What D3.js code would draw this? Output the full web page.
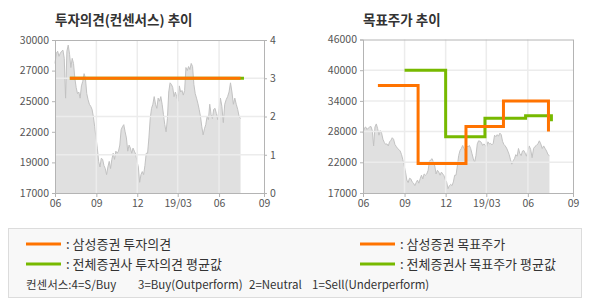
<!DOCTYPE html>
<html>
<head>
<meta charset="utf-8">
<script src="https://cdn.jsdelivr.net/npm/d3@7"></script>
<style>
body { margin: 0; background: #fff; }
text { font-family: "Noto Sans CJK KR", "Noto Sans", sans-serif; }
</style>
</head>
<body>
<svg id="chart" width="590" height="300"></svg>
<script>
// daily close, spread evenly from start to end
var priceStart = "2018-06-01", priceEnd = "2019-07-15";
var prices = [
  27700, 28700, 28900, 28400, 28700, 28900, 29000, 28200, 25200, 28900,
  29500, 28600, 27300, 28200, 27700, 26500, 25900, 25500, 25600, 25200,
  26000, 26300, 26800, 26500, 25500, 25100, 24700, 24500, 24200, 23500,
  22500, 21400, 20400, 19100, 18700, 19400, 19300, 18800, 18600, 18200,
  18700, 19100, 18600, 19300, 19900, 19300, 20100,
  19900, 20100, 20700, 22200, 22500, 22700, 22000, 21400, 20100, 20700,
  20400, 19900, 20400, 20100, 19800, 19100, 18700, 17700, 18200, 18400,
  18200, 18800, 19900, 19900, 21400, 23300, 24300, 24700, 25300, 24700,
  24300, 25200, 25000, 25300, 24700, 23700, 22700, 22000, 23300, 25600,
  26200, 26100, 25900, 25300, 25600, 25300, 25000,
  26000, 25600, 25700, 25400, 25700, 27300, 27000, 27400, 27100, 27700,
  27400, 26100, 25500, 25200, 24800, 24200, 23500, 22500, 21700, 22300,
  22700, 23500, 23200, 24700, 23700, 23300, 24200, 24300, 23800, 23200,
  24300, 25200, 24500, 22900, 24700, 25100, 25300, 25600, 26200, 25600,
  24700, 25200, 24700, 24200, 23500, 23300
];

var opinionSamsung = [["2018-07-04", 3], ["2019-07-15", 3]];
var opinionAll = [["2018-07-04", 3], ["2019-07-22", 3]];

var targetSamsung = [["2018-07-04", 37000], ["2018-10-01", 21800], ["2019-01-15", 29000],
                     ["2019-04-08", 34000], ["2019-07-13", 28000]];
var targetAll = [["2018-09-01", 40000], ["2018-12-01", 27000], ["2019-02-26", 30600],
                 ["2019-05-27", 31100], ["2019-07-19", 30000]];

var leftPriceTicks = [17000, 19000, 22000, 25000, 27000, 30000];
var opinionTicks = [0, 1, 2, 3, 4];
var rightPriceTicks = [17000, 22000, 28000, 34000, 40000, 46000];
var quarterTicks = ["2018-06-01", "2018-09-01", "2018-12-01", "2019-03-01", "2019-06-01", "2019-09-01"];
var quarterLabels = ["06", "09", "12", "19/03", "06", "09"];
var consensusNotes = ["컨센서스:4=S/Buy", "3=Buy(Outperform)", "2=Neutral", "1=Sell(Underperform)"];

var orange = "#ff7300", green = "#77b900";
var parse = d3.timeParse("%Y-%m-%d");
var svg = d3.select("#chart");

var t0 = +parse(priceStart), t1 = +parse(priceEnd);
var priceData = prices.map(function(v, i) {
  return { date: new Date(t0 + (t1 - t0) * i / (prices.length - 1)), value: v };
});
var qDates = quarterTicks.map(parse);

function evenRange(n, bottom, top) {
  return d3.range(n).map(function(i) { return bottom - i * (bottom - top) / (n - 1); });
}

function styleAxis(sel) {
  sel.select(".domain").attr("stroke", "#b4b4b4");
  sel.selectAll(".tick line").attr("stroke", "#b4b4b4");
  sel.selectAll("text").attr("font-size", 10.5).attr("fill", "#555").attr("font-family", "inherit");
  return sel;
}

function panel(left, right, top, bottom, priceTicks, gridY, title) {
  var g = svg.append("g");
  var x = d3.scaleTime()
    .domain([qDates[0], qDates[4], qDates[5]])
    .range([left, left + (right - left) * 0.785, right]);
  var y = d3.scaleLinear().domain(priceTicks).range(evenRange(priceTicks.length, bottom, top));

  g.append("text").attr("x", left).attr("y", 25)
    .attr("font-size", 13.5).attr("font-weight", "bold").attr("fill", "#333").text(title);

  g.append("path").datum(priceData)
    .attr("fill", "#e0e0e0")
    .attr("d", d3.area().x(function(d) { return x(d.date); }).y0(bottom).y1(function(d) { return y(d.value); }));
  g.append("path").datum(priceData)
    .attr("fill", "none").attr("stroke", "#c2c2c2").attr("stroke-width", 1)
    .attr("d", d3.line().x(function(d) { return x(d.date); }).y(function(d) { return y(d.value); }));

  // grid over the price area
  g.append("g").selectAll("line").data(qDates.slice(1, 5)).enter().append("line")
    .attr("x1", function(d) { return x(d); }).attr("x2", function(d) { return x(d); })
    .attr("y1", top).attr("y2", bottom).attr("stroke", "#ececec").attr("stroke-width", 1.5);
  g.append("g").selectAll("line").data(gridY).enter().append("line")
    .attr("x1", left).attr("x2", right).attr("y1", function(d) { return d; }).attr("y2", function(d) { return d; })
    .attr("stroke", "#ececec").attr("stroke-width", 1.5);

  g.append("line").attr("x1", left).attr("x2", right).attr("y1", top + 0.5).attr("y2", top + 0.5).attr("stroke", "#b4b4b4");
  g.append("line").attr("x1", right + 0.5).attr("x2", right + 0.5).attr("y1", top).attr("y2", bottom).attr("stroke", "#b4b4b4");

  styleAxis(g.append("g").attr("transform", "translate(0," + bottom + ")")
    .call(d3.axisBottom(x).tickValues(qDates).tickSize(4).tickPadding(3)
      .tickFormat(function(d, i) { return quarterLabels[i]; })));
  styleAxis(g.append("g").attr("transform", "translate(" + left + ",0)")
    .call(d3.axisLeft(y).tickValues(priceTicks).tickSize(3).tickPadding(3).tickFormat(d3.format("d"))));

  return { g: g, x: x, y: y };
}

// left: opinion
var yO = d3.scaleLinear().domain([0, 4]).range([193, 40]);
var L = panel(55, 264, 40, 193, leftPriceTicks, opinionTicks.slice(1, 4).map(yO), "투자의견(컨센서스) 추이");
styleAxis(L.g.append("g").attr("transform", "translate(264,0)")
  .call(d3.axisRight(yO).tickValues(opinionTicks).tickSize(3).tickPadding(3).tickFormat(d3.format("d"))));

var opLine = d3.line().x(function(d) { return L.x(parse(d[0])); }).y(function(d) { return yO(d[1]); });
L.g.append("path").datum(opinionAll).attr("fill", "none").attr("stroke", green).attr("stroke-width", 3).attr("d", opLine);
L.g.append("path").datum(opinionSamsung).attr("fill", "none").attr("stroke", orange).attr("stroke-width", 3).attr("d", opLine);

// right: target price
var yR = d3.scaleLinear().domain(rightPriceTicks).range(evenRange(rightPriceTicks.length, 193, 39.5));
var R = panel(363, 573, 39.5, 193, rightPriceTicks, rightPriceTicks.slice(1, 5).map(yR), "목표주가 추이");

var tgLine = d3.line().curve(d3.curveStepAfter)
  .x(function(d) { return R.x(parse(d[0])); }).y(function(d) { return R.y(d[1]); });
R.g.append("path").datum(targetAll).attr("fill", "none").attr("stroke", green).attr("stroke-width", 3).attr("d", tgLine);
R.g.append("path").datum(targetSamsung).attr("fill", "none").attr("stroke", orange).attr("stroke-width", 3).attr("d", tgLine);

// legend
var lg = svg.append("g");
lg.append("rect").attr("x", 8.5).attr("y", 228.5).attr("width", 573).attr("height", 69)
  .attr("fill", "#f8f8f8").attr("stroke", "#dcdcdc");
var legendItems = [
  { x: 26, y: 244, color: orange, label: ": 삼성증권 투자의견" },
  { x: 26, y: 264, color: green, label: ": 전체증권사 투자의견 평균값" },
  { x: 360, y: 244, color: orange, label: ": 삼성증권 목표주가" },
  { x: 360, y: 264, color: green, label: ": 전체증권사 목표주가 평균값" }
];
legendItems.forEach(function(d) {
  lg.append("line").attr("x1", d.x).attr("x2", d.x + 35).attr("y1", d.y).attr("y2", d.y)
    .attr("stroke", d.color).attr("stroke-width", 3);
  lg.append("text").attr("x", d.x + 40).attr("y", d.y + 4.5).attr("font-size", 13).attr("fill", "#333").text(d.label);
});
var noteX = [26, 138, 249, 312];
lg.append("text").attr("y", 289).attr("font-size", 11.5).attr("fill", "#333")
  .selectAll("tspan").data(consensusNotes).enter().append("tspan")
  .attr("x", function(d, i) { return noteX[i]; })
  .text(function(d) { return d; });
</script>
</body>
</html>
